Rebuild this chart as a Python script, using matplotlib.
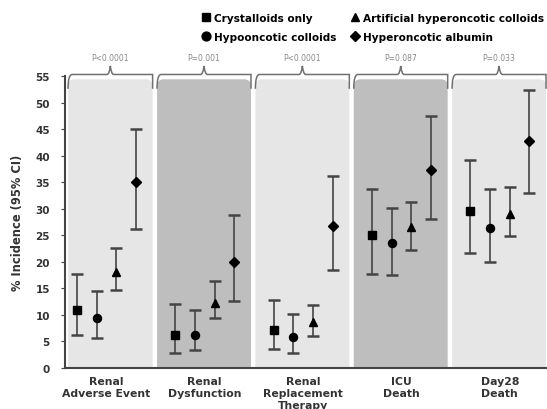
import matplotlib
matplotlib.use('Agg')
import matplotlib.pyplot as plt
from matplotlib.patches import FancyBboxPatch, PathPatch
from matplotlib.path import Path
import numpy as np

# 结局类别
outcomes = ['Renal\nAdverse Event', 'Renal\nDysfunction', 'Renal\nReplacement\nTherapy',
            'ICU\nDeath', 'Day28\nDeath']
p_values = ['P<0.0001', 'P=0.001', 'P<0.0001', 'P=0.087', 'P=0.033']

# 各组发生率及95%置信区间
groups = ['Crystalloids only', 'Hypooncotic colloids',
          'Artificial hyperoncotic colloids', 'Hyperoncotic albumin']
crystalloid = [10.9, 6.3, 7.2, 25.1, 29.6]
crystalloid_lo = [6.2, 2.8, 3.5, 17.8, 21.6]
crystalloid_hi = [17.8, 12.0, 12.8, 33.7, 39.2]
hypo = [9.5, 6.3, 5.8, 23.5, 26.3]
hypo_lo = [5.6, 3.4, 2.9, 17.5, 19.9]
hypo_hi = [14.6, 10.9, 10.2, 30.2, 33.8]
artificial = [18.1, 12.2, 8.7, 26.5, 29.1]
artificial_lo = [14.7, 9.4, 6.1, 22.3, 24.8]
artificial_hi = [22.6, 16.3, 11.9, 31.2, 34.1]
albumin = [35.0, 19.9, 26.7, 37.3, 42.8]
albumin_lo = [26.2, 12.7, 18.5, 28.1, 33.0]
albumin_hi = [45.0, 28.9, 36.1, 47.5, 52.4]

series = [(crystalloid, crystalloid_lo, crystalloid_hi, 's'),
          (hypo, hypo_lo, hypo_hi, 'o'),
          (artificial, artificial_lo, artificial_hi, '^'),
          (albumin, albumin_lo, albumin_hi, 'D')]
offsets = [-0.3, -0.1, 0.1, 0.3]

fig = plt.figure(figsize=(5.47, 4.10), dpi=100)
ax = fig.add_axes([0.119, 0.10, 0.881, 0.712])
ax.set_xlim(-0.42, 4.48)
ax.set_ylim(0, 55)

# 背景分组色块，圆角按像素比例换算
px_x = 0.881 * 547 / 4.9
px_y = 0.712 * 410 / 55
panel_colors = ['#e6e6e6', '#bebebe', '#e6e6e6', '#bebebe', '#e6e6e6']
for i, c in enumerate(panel_colors):
    left = i - 0.485 if i > 0 else -0.39
    right = i + 0.47
    box = FancyBboxPatch((left, -3), right - left, 57.4,
                         boxstyle='round,pad=0,rounding_size=0.07',
                         mutation_aspect=px_x / px_y,
                         fc=c, ec='none', zorder=0)
    ax.add_patch(box)

    # 顶部大括号和P值
    mid = (left + right) / 2
    yb, yt, yp = 52.6, 55.3, 56.9
    verts = [(left, yb), (left, yt), (left + 0.04, yt), (left + 0.07, yt),
             (mid - 0.035, yt), (mid - 0.01, yt), (mid, yp),
             (mid + 0.01, yt), (mid + 0.035, yt),
             (right - 0.07, yt), (right - 0.04, yt), (right, yt), (right, yb)]
    codes = [Path.MOVETO, Path.CURVE3, Path.CURVE3, Path.LINETO,
             Path.LINETO, Path.CURVE3, Path.CURVE3, Path.CURVE3, Path.CURVE3,
             Path.LINETO, Path.CURVE3, Path.CURVE3, Path.LINETO]
    ax.add_patch(PathPatch(Path(verts, codes), fc='none', ec='#707070', lw=1.1,
                           clip_on=False, zorder=3))
    ax.text(mid, 57.6, p_values[i], ha='center', va='bottom', fontsize=5.5,
            color='#888888', clip_on=False)

x = np.arange(len(outcomes))
handles = []
for (vals, lo, hi, m), off in zip(series, offsets):
    vals = np.array(vals)
    err = [vals - np.array(lo), np.array(hi) - vals]
    ax.errorbar(x + off, vals, yerr=err, fmt='none', ecolor='#444444',
                elinewidth=1.2, capsize=4, capthick=1.8, zorder=4)
    h, = ax.plot(x + off, vals, linestyle='none', marker=m, color='black',
                 markersize=5.8 if m != 'D' else 5, zorder=5)
    handles.append(h)

ax.set_xticks(x)
ax.set_xticklabels(outcomes, fontsize=7.8, fontweight='bold', color='#333333',
                   linespacing=1.2)
ax.tick_params(axis='x', length=0, pad=6)
ax.set_yticks(range(0, 56, 5))
ax.tick_params(axis='y', labelsize=7.5, length=3, pad=8, color='#444444',
               labelcolor='#333333')
for lab in ax.get_yticklabels():
    lab.set_fontweight('bold')
ax.set_ylabel('% Incidence (95% CI)', fontsize=8.3, fontweight='bold', color='#333333',
              labelpad=8)
for s in ['top', 'right']:
    ax.spines[s].set_visible(False)
ax.spines['left'].set_color('#444444')
ax.spines['bottom'].set_color('#444444')
ax.spines['left'].set_linewidth(1.5)
ax.spines['bottom'].set_linewidth(1.5)

fig.legend(handles, groups, loc='upper right', bbox_to_anchor=(1.012, 0.99), ncol=2,
           frameon=False, prop={'size': 7.6, 'weight': 'bold'}, handletextpad=0.3,
           columnspacing=1.2, handlelength=1.0, labelspacing=0.9, markerscale=1.1)

fig.savefig('out.png', dpi=100)
